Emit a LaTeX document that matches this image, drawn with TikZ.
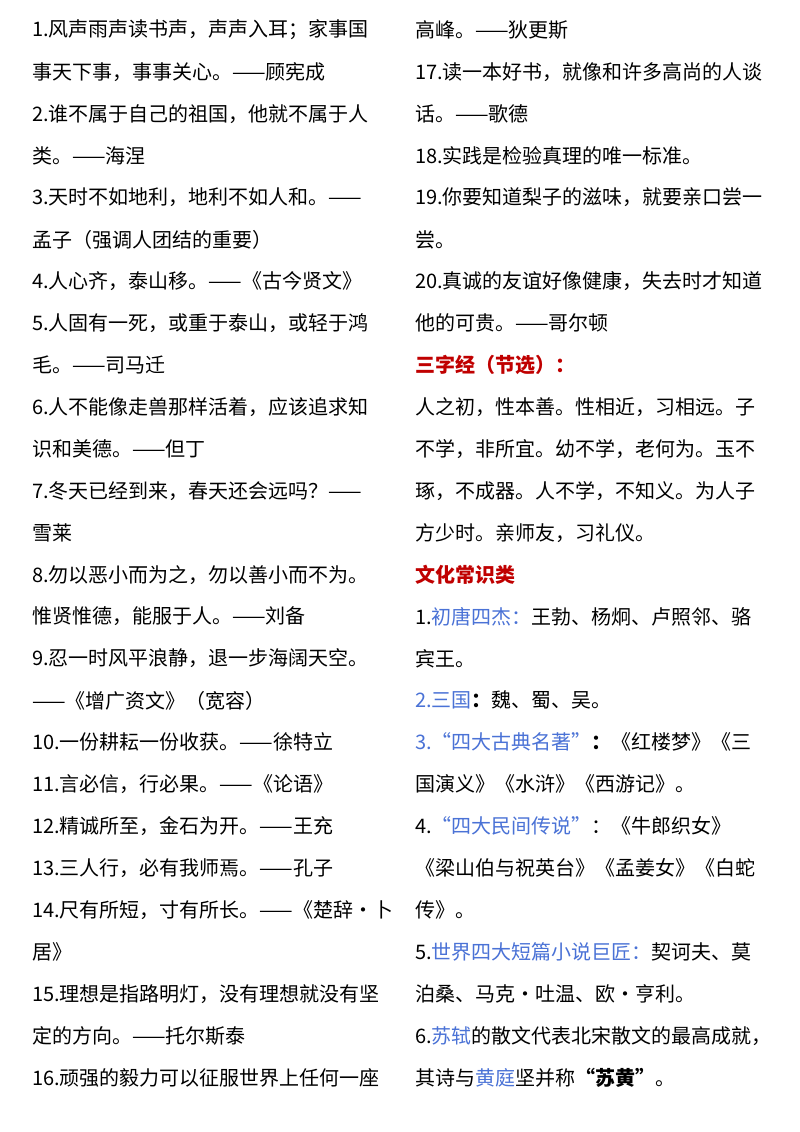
\documentclass[tikz,border=0pt]{standalone}
\usepackage{fontspec}
\setmainfont{Noto Sans CJK SC}
\definecolor{hred}{HTML}{C00000}
\definecolor{hblue}{HTML}{4A72D6}
\begin{document}
\begin{tikzpicture}[x=1pt,y=1pt,ln/.style={anchor=west,inner sep=0pt,font=\fontsize{20}{22}\selectfont}]
\useasboundingbox (0,0) rectangle (800,-1132);
\fill[white] (0,0) rectangle (800,-1132);
\foreach \t [count=\i] in {
1.风声雨声读书声，声声入耳；家事国,
事天下事，事事关心。——顾宪成,
2.谁不属于自己的祖国，他就不属于人,
类。——海涅,
3.天时不如地利，地利不如人和。——,
孟子（强调人团结的重要）,
4.人心齐，泰山移。——《古今贤文》,
5.人固有一死，或重于泰山，或轻于鸿,
毛。——司马迁,
6.人不能像走兽那样活着，应该追求知,
识和美德。——但丁,
7.冬天已经到来，春天还会远吗？——,
雪莱,
8.勿以恶小而为之，勿以善小而不为。,
惟贤惟德，能服于人。——刘备,
9.忍一时风平浪静，退一步海阔天空。,
——《增广资文》（宽容）,
10.一份耕耘一份收获。——徐特立,
11.言必信，行必果。——《论语》,
12.精诚所至，金石为开。——王充,
13.三人行，必有我师焉。——孔子,
14.尺有所短，寸有所长。——《楚辞·卜,
居》,
15.理想是指路明灯，没有理想就没有坚,
定的方向。——托尔斯泰,
16.顽强的毅力可以征服世界上任何一座}
  \node[ln] (l\i) at (32,{-30-41.9*(\i-1)}) {\t};
\foreach \t [count=\i] in {
高峰。——狄更斯,
17.读一本好书，就像和许多高尚的人谈,
话。——歌德,
18.实践是检验真理的唯一标准。,
19.你要知道梨子的滋味，就要亲口尝一,
尝。,
20.真诚的友谊好像健康，失去时才知道,
他的可贵。——哥尔顿,
{\color{hred}\bfseries 三字经（节选）：},
人之初，性本善。性相近，习相远。子,
不学，非所宜。幼不学，老何为。玉不,
琢，不成器。人不学，不知义。为人子,
方少时。亲师友，习礼仪。,
{\color{hred}\bfseries 文化常识类},
1.{\color{hblue}初唐四杰：}王勃、杨炯、卢照邻、骆,
宾王。,
{\color{hblue}2.三国}{\bfseries ：}魏、蜀、吴。,
{\color{hblue}3.“四大古典名著”}{\bfseries ：}《红楼梦》《三,
国演义》《水浒》《西游记》。,
4.{\color{hblue}“四大民间传说”}：《牛郎织女》,
《梁山伯与祝英台》《孟姜女》《白蛇,
传》。,
5.{\color{hblue}世界四大短篇小说巨匠：}契诃夫、莫,
泊桑、马克·吐温、欧·亨利。,
6.{\color{hblue}苏轼}的散文代表北宋散文的最高成就，,
其诗与{\color{hblue}黄庭}坚并称{\bfseries “苏黄”}。}
  \node[ln] (r\i) at (415,{-30-41.9*(\i-1)}) {\t};
\end{tikzpicture}
\end{document}
